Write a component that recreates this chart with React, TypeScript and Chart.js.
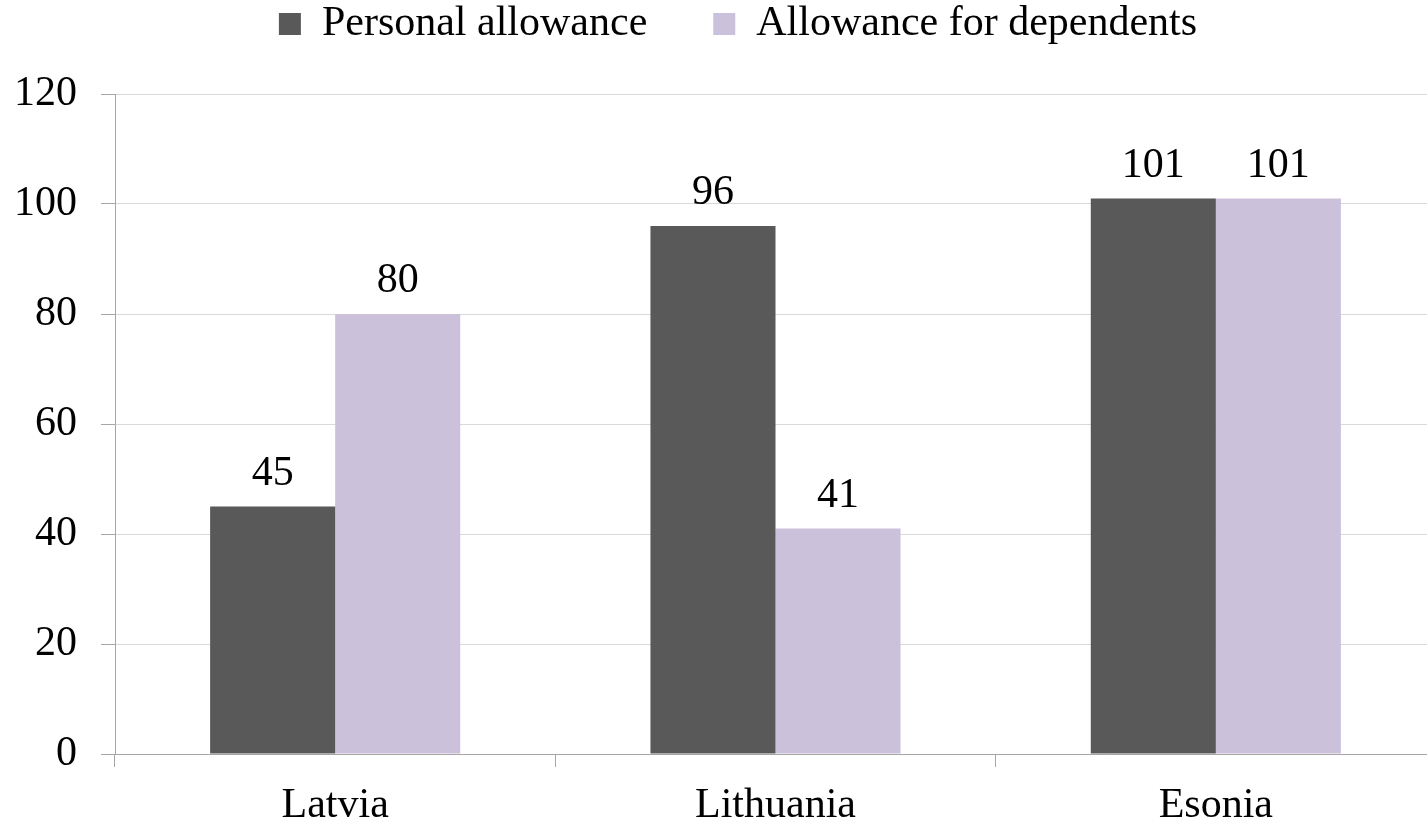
import React, { useEffect, useRef } from "react";
import { Chart, registerables } from "chart.js";

Chart.register(...registerables);

const categories = ["Latvia", "Lithuania", "Esonia"];
const personalAllowance = [45, 96, 101];
const dependentsAllowance = [80, 41, 101];
const seriesNames = ["Personal allowance", "Allowance for dependents"];

const FONT = "'Liberation Serif', 'Times New Roman', serif";
const FS = 42;
const LEGEND_PAD = 66;

const dataLabelPlugin = {
  id: "dataLabels",
  afterDatasetsDraw(chart: any) {
    const { ctx } = chart;
    ctx.save();
    ctx.font = `${FS}px ${FONT}`;
    ctx.fillStyle = "#000";
    ctx.textAlign = "center";
    ctx.textBaseline = "alphabetic";
    chart.data.datasets.forEach((ds: any, i: number) => {
      const meta = chart.getDatasetMeta(i);
      meta.data.forEach((bar: any, j: number) => {
        ctx.fillText(String(ds.data[j]), bar.x, bar.y - 22);
      });
    });
    ctx.restore();
  },
};

const legendLayoutPlugin = {
  id: "legendLayout",
  beforeInit(chart: any) {
    const legend = chart.legend;
    if (legend && !legend.__patched) {
      const orig = legend.fit.bind(legend);
      legend.fit = function () {
        orig();
        this.height = 94;
      };
      legend.__patched = true;
    }
  },
  afterLayout(chart: any) {
    const legend = chart.legend;
    if (legend) {
      legend.top = 24 - LEGEND_PAD - FS / 2;
      legend.left += 20;
      legend.right += 20;
    }
  },
};

export default function App() {
  const ref = useRef<HTMLCanvasElement>(null);
  useEffect(() => {
    document.body.style.margin = "0";
    document.body.style.overflow = "hidden";
    const chart = new Chart(ref.current!, {
      type: "bar",
      data: {
        labels: categories,
        datasets: [
          {
            label: seriesNames[0],
            data: personalAllowance,
            backgroundColor: "#595959",
            categoryPercentage: 0.568,
            barPercentage: 1,
          },
          {
            label: seriesNames[1],
            data: dependentsAllowance,
            backgroundColor: "#ccc1da",
            categoryPercentage: 0.568,
            barPercentage: 1,
          },
        ],
      },
      options: {
        animation: false,
        responsive: false,
        layout: { padding: { top: 0, right: 0, left: 0, bottom: 0 } },
        plugins: {
          tooltip: { enabled: false },
          legend: {
            position: "top",
            labels: {
              font: { family: FONT, size: FS },
              color: "#000",
              boxWidth: 22,
              boxHeight: 22,
              padding: LEGEND_PAD,
            },
          },
        },
        scales: {
          x: {
            afterFit(scale: any) {
              scale.height = 71;
            },
            grid: {
              offset: true,
              drawOnChartArea: false,
              drawTicks: true,
              tickLength: 13,
              color: "#a6a6a6",
            },
            border: { color: "#a6a6a6" },
            ticks: {
              font: { family: FONT, size: FS },
              color: "#000",
              padding: 14,
            },
          },
          y: {
            min: 0,
            max: 120,
            afterFit(scale: any) {
              scale.width = 115;
            },
            ticks: {
              stepSize: 20,
              font: { family: FONT, size: FS },
              color: "#000",
              padding: 24,
            },
            grid: {
              color: "#d9d9d9",
              tickColor: "#a6a6a6",
              tickLength: 14,
            },
            border: { color: "#a6a6a6" },
          },
        },
      },
      plugins: [legendLayoutPlugin, dataLabelPlugin],
    });
    return () => chart.destroy();
  }, []);
  return (
    <div style={{ position: "fixed", left: 0, top: 0, width: 1436, height: 825 }}>
      <canvas ref={ref} width={1436} height={825} />
    </div>
  );
}
